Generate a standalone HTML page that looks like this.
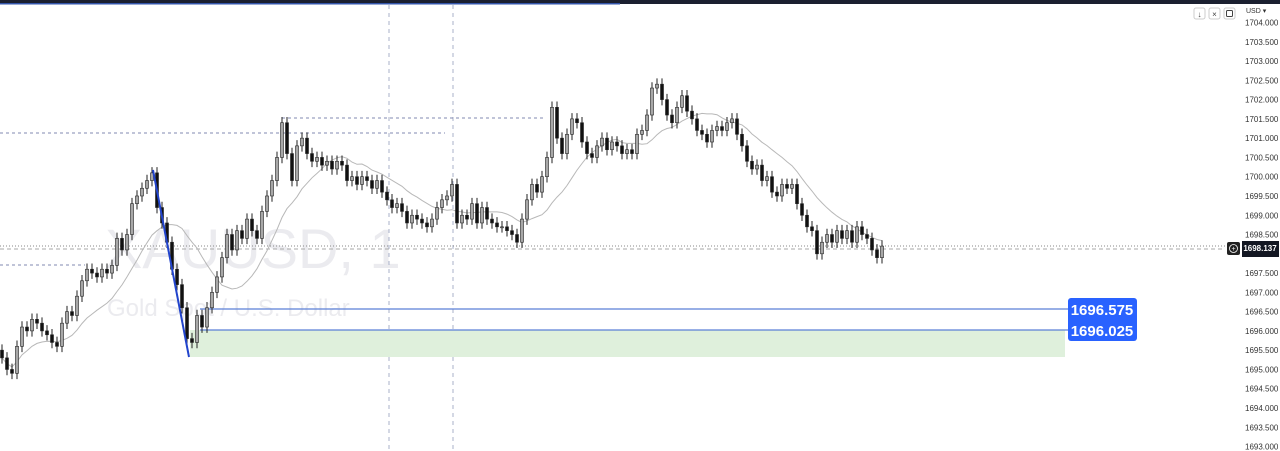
<!DOCTYPE html>
<html><head><meta charset="utf-8">
<style>
body{margin:0;width:1280px;height:451px;overflow:hidden;background:#fff;font-family:"Liberation Sans",sans-serif}
svg{display:block}
</style></head>
<body>
<svg id="chart" width="1280" height="451" xmlns="http://www.w3.org/2000/svg">
<rect x="0" y="0" width="1280" height="4" fill="#1b2030"/>
<rect x="0" y="3" width="620" height="1.5" fill="#3355aa"/>
<text x="105" y="268" font-size="56" fill="#ebebef">XAUUSD, 1</text>
<text x="107" y="316" font-size="24" fill="#ebebef">Gold Spot / U.S. Dollar</text>
<line x1="389" y1="5" x2="389" y2="451" stroke="#a8b0c8" stroke-dasharray="4,4"/>
<line x1="453" y1="5" x2="453" y2="451" stroke="#a8b0c8" stroke-dasharray="4,4"/>
<line x1="0" y1="133" x2="445" y2="133" stroke="#8088b0" stroke-dasharray="3,3"/>
<line x1="282" y1="118" x2="545" y2="118" stroke="#8088b0" stroke-dasharray="3,3"/>
<line x1="0" y1="265" x2="85" y2="265" stroke="#8088b0" stroke-dasharray="3,3"/>
<line x1="0" y1="246" x2="1225" y2="246" stroke="#888" stroke-dasharray="1,2"/>
<line x1="0" y1="249" x2="1225" y2="249" stroke="#aaa" stroke-dasharray="4,3"/>
<rect x="190" y="330" width="875" height="27" fill="#dff0dc"/>
<line x1="200" y1="309" x2="1068" y2="309" stroke="#5b7fd6" stroke-width="1.2"/>
<line x1="200" y1="330" x2="1068" y2="330" stroke="#5b7fd6" stroke-width="1.2"/>
<g id="ma"></g>
<g id="candles"></g>
<line x1="153" y1="170" x2="189" y2="357" stroke="#2244cc" stroke-width="2"/>
<rect x="1068" y="298" width="69" height="43" rx="3" fill="#2962ff"/>
<text x="1102" y="315" font-size="15" font-weight="bold" fill="#fff" text-anchor="middle">1696.575</text>
<text x="1102" y="336" font-size="15" font-weight="bold" fill="#fff" text-anchor="middle">1696.025</text>
<g id="axis"></g>
<text x="1246" y="13" font-size="7" fill="#333">USD ▾</text>
<rect x="1194" y="8" width="11" height="11" rx="2" fill="none" stroke="#ccc"/>
<text x="1199.5" y="17" font-size="8" text-anchor="middle" fill="#444">↓</text>
<rect x="1209" y="8" width="11" height="11" rx="2" fill="none" stroke="#ccc"/>
<text x="1214.5" y="17" font-size="8" text-anchor="middle" fill="#444">×</text>
<rect x="1224" y="8" width="11" height="11" rx="2" fill="none" stroke="#ccc"/>
<rect x="1226.5" y="10.5" width="6" height="6" rx="1" fill="none" stroke="#444"/>
<rect x="1227" y="242" width="13" height="13" rx="2" fill="#222"/>
<circle cx="1233.5" cy="248.5" r="4" fill="none" stroke="#fff" stroke-width="0.8"/>
<text x="1233.5" y="251" font-size="7" fill="#fff" text-anchor="middle">+</text>
<rect x="1242" y="241" width="37" height="16" fill="#131722"/>
<text x="1260" y="251" font-size="8" fill="#fff" text-anchor="middle" font-weight="bold">1698.137</text>
</svg>
<script>
const closes=[1695.3,1695.0,1694.9,1695.6,1696.1,1696.0,1696.3,1696.2,1696.0,1695.9,1695.7,1695.6,1696.2,1696.5,1696.4,1696.9,1697.3,1697.6,1697.5,1697.4,1697.6,1697.5,1697.7,1698.4,1698.1,1698.5,1699.3,1699.5,1699.7,1699.9,1700.1,1699.2,1698.8,1698.3,1697.6,1697.2,1696.6,1695.8,1695.7,1696.4,1696.1,1696.6,1697.0,1697.4,1697.9,1698.5,1698.1,1698.6,1698.4,1698.9,1698.6,1698.4,1699.1,1699.5,1699.9,1700.5,1701.4,1700.6,1699.9,1700.8,1701.0,1700.6,1700.4,1700.5,1700.3,1700.4,1700.2,1700.4,1700.3,1699.9,1700.0,1699.8,1700.0,1699.9,1699.7,1699.9,1699.6,1699.4,1699.2,1699.3,1699.1,1698.8,1699.0,1698.9,1698.8,1698.7,1698.9,1699.2,1699.4,1699.5,1699.8,1698.8,1699.0,1698.9,1699.3,1698.8,1699.2,1698.9,1698.8,1698.7,1698.7,1698.6,1698.5,1698.3,1698.9,1699.4,1699.8,1699.6,1700.0,1700.5,1701.8,1701.0,1700.6,1701.1,1701.5,1701.4,1700.9,1700.6,1700.5,1700.8,1701.0,1700.7,1700.9,1700.8,1700.6,1700.7,1700.6,1701.1,1701.2,1701.6,1702.3,1702.4,1702.0,1701.6,1701.4,1701.8,1702.1,1701.7,1701.5,1701.2,1701.1,1700.9,1701.2,1701.3,1701.2,1701.4,1701.5,1701.1,1700.8,1700.4,1700.2,1700.3,1699.9,1700.0,1699.6,1699.5,1699.8,1699.7,1699.8,1699.3,1699.0,1698.7,1698.6,1698.0,1698.3,1698.5,1698.3,1698.6,1698.4,1698.6,1698.3,1698.7,1698.5,1698.4,1698.1,1697.9,1698.2];
const firstOpen=1695.5;
const tickValues=[1704,1703.5,1703,1702.5,1702,1701.5,1701,1700.5,1700,1699.5,1699,1698.5,1697.5,1697,1696.5,1696,1695.5,1695,1694.5,1694,1693.5,1693];
const NS="http://www.w3.org/2000/svg";
const yOf=p=>22.5+(1704-p)*38.55;
const xOf=i=>2+i*5;
const cg=document.getElementById('candles');
for(let i=0;i<closes.length;i++){
  const o=i?closes[i-1]:firstOpen, c=closes[i];
  const hi=Math.max(o,c)+0.15, lo=Math.min(o,c)-0.15;
  const x=xOf(i);
  const w=document.createElementNS(NS,'line');
  w.setAttribute('x1',x);w.setAttribute('x2',x);
  w.setAttribute('y1',yOf(hi));w.setAttribute('y2',yOf(lo));
  w.setAttribute('stroke','#222');
  
  
  cg.appendChild(w);
  const b=document.createElementNS(NS,'rect');
  const top=yOf(Math.max(o,c)),bot=yOf(Math.min(o,c));
  b.setAttribute('x',x-1.5);b.setAttribute('width',3);
  b.setAttribute('y',top);b.setAttribute('height',Math.max(1,bot-top));
  b.setAttribute('fill',c>=o?'#a8a8a8':'#111');
  b.setAttribute('stroke','#222');b.setAttribute('stroke-width','0.6');
  
  
  cg.appendChild(b);
}
let pts=[];
for(let i=0;i<closes.length;i++){
  const n=Math.min(i+1,14);let s=0;
  for(let k=i-n+1;k<=i;k++)s+=closes[k];
  pts.push(xOf(i)+','+yOf(s/n).toFixed(1));
}
const ma=document.createElementNS(NS,'polyline');
ma.setAttribute('points',pts.join(' '));
ma.setAttribute('fill','none');ma.setAttribute('stroke','#b8b8b8');


document.getElementById('ma').appendChild(ma);
const ax=document.getElementById('axis');
tickValues.forEach(v=>{
  const t=document.createElementNS(NS,'text');
  t.setAttribute('x',1245);t.setAttribute('y',yOf(v)+3);
  t.setAttribute('font-size','8');t.setAttribute('fill','#333');
  t.textContent=v.toFixed(3);
  
  
  ax.appendChild(t);
});
</script>
</body></html>
